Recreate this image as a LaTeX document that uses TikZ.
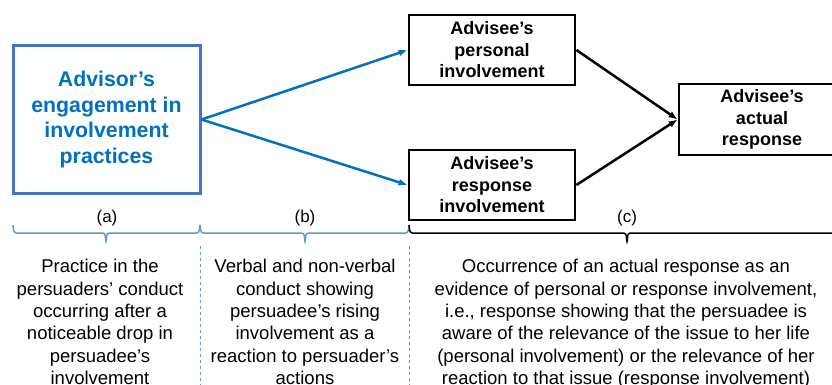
\documentclass[tikz,border=0pt]{standalone}
\usepackage{fontspec}
\setmainfont{Liberation Sans}
\usetikzlibrary{arrows.meta}
\definecolor{advblue}{RGB}{0,112,192}
\definecolor{boxblue}{RGB}{68,114,196}
\definecolor{braceblue}{RGB}{91,155,213}

\begin{document}
\begin{tikzpicture}[x=1pt,y=-1pt,>={Latex[length=9pt,width=7pt]},
  advbox/.style={draw=boxblue,line width=3pt,text=advblue,align=center,inner sep=0pt,
    minimum width=187pt,minimum height=147pt,font=\fontsize{21.3}{25.5}\selectfont\bfseries},
  blk/.style={draw,line width=2.8pt,align=center,inner sep=0pt,
    minimum width=166pt,minimum height=70pt,font=\fontsize{18}{21.5}\selectfont\bfseries},
  lab/.style={font=\fontsize{17}{20}\selectfont},
  expl/.style={align=center,anchor=north,inner sep=0pt,font=\fontsize{18.5}{22.4}\selectfont},
  brc/.style={line width=1.5pt,rounded corners=2.5pt}]
  \useasboundingbox (0,0) rectangle (832,385);

  % boxes
  \node[advbox] (adv) at (106.5,119.5) {Advisor's\\engagement in\\involvement\\practices};
  \node[blk] (pers) at (492,50) {Advisee's\\personal\\involvement};
  \node[blk] (resp) at (492,185) {Advisee's\\response\\involvement};
  \node[blk,minimum height=71pt] (act) at (762,119.5) {Advisee's\\actual\\response};

  % arrows
  \draw[->,advblue,line width=2.5pt] (adv.east) -- (pers.west);
  \draw[->,advblue,line width=2.5pt] (adv.east) -- (resp.west);
  \draw[->,line width=2.5pt] (pers.east) -- (act.west);
  \draw[->,line width=2.5pt] (resp.east) -- (act.west);

  % stages
  \node[lab] (la) at (107,218) {(a)};
  \node[lab] (lb) at (305,218) {(b)};
  \node[lab] (lc) at (627,218) {(c)};
  \foreach \a/\m/\b/\c in {13/106/200/braceblue,200/305/409/braceblue,409/627/845/black}{
    \draw[brc,\c] (\a,225) -- (\a+1,233) -- (\m-1,233) -- (\m,243) -- (\m+1,233) -- (\b-1,233) -- (\b,225);
  }
  \foreach \x in {200,409}{
    \draw[braceblue,dashed,line width=1pt] (\x,246) -- (\x,385);
  }

  % explanations
  \node[expl] (ea) at (100,259) {Practice in the\\persuaders' conduct\\occurring after a\\noticeable drop in\\persuadee's\\involvement};
  \node[expl] (eb) at (305,259) {Verbal and non-verbal\\conduct showing\\persuadee's rising\\involvement as a\\reaction to persuader's\\actions};
  \node[expl] (ec) at (626,259) {Occurrence of an actual response as an\\evidence of personal or response involvement,\\i.e., response showing that the persuadee is\\aware of the relevance of the issue to her life\\(personal involvement) or the relevance of her\\reaction to that issue (response involvement)};
\end{tikzpicture}
\end{document}
